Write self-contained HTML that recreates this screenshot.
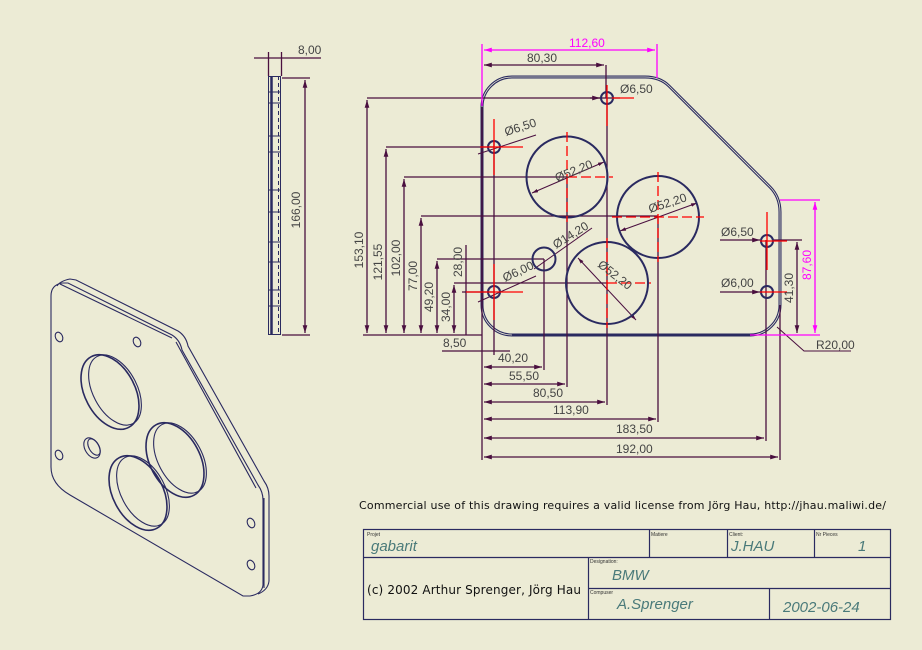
<!DOCTYPE html>
<html><head><meta charset="utf-8"><style>
html,body{margin:0;padding:0;background:#ECEBD5;}
svg{display:block;}
text{font-family:"Liberation Sans",sans-serif;}
</style></head><body>
<svg width="922" height="650" viewBox="0 0 922 650" xmlns="http://www.w3.org/2000/svg">
<rect width="922" height="650" fill="#ECEBD5"/>
<defs>
<marker id="a" viewBox="0 0 10 10" refX="10" refY="5" markerWidth="6" markerHeight="6" orient="auto-start-reverse"><path d="M0,2 L10,5 L0,8 z" fill="#4a0f3f"/></marker>
<marker id="m" viewBox="0 0 10 10" refX="10" refY="5" markerWidth="6" markerHeight="6" orient="auto-start-reverse"><path d="M0,2 L10,5 L0,8 z" fill="#ff00ff"/></marker>
</defs>

<!-- Isometric view -->
<g fill="none" stroke="#2a2a60" stroke-width="1.1">
<path d="M51,296 Q51,285 62,283 L68,283 L172,335 Q180,340 182,350 L258,485 Q263,492 263,500 L263,585 Q262,594 250,596 L243,596 L70,495 Q51,484 51,467 Z"/>
<path d="M57,286 Q60,281 70,279 L76,280 L178,331 Q186,336 188,346 L264,481 Q269,488 269,496 L269,581 Q268,590 258,594"/>
<path d="M60,284 L172,338 M176,342 L256,488 M264,498 L264,588"/>
<ellipse cx="110" cy="392" rx="25" ry="40" transform="rotate(-28 110 392)" stroke-width="1.6"/>
<ellipse cx="115" cy="390" rx="22" ry="38" transform="rotate(-28 115 390)"/>
<ellipse cx="175" cy="460" rx="25" ry="40" transform="rotate(-28 175 460)" stroke-width="1.6"/>
<ellipse cx="180" cy="458" rx="22" ry="38" transform="rotate(-28 180 458)"/>
<ellipse cx="138" cy="493" rx="25" ry="40" transform="rotate(-28 138 493)" stroke-width="1.6"/>
<ellipse cx="143" cy="491" rx="22" ry="38" transform="rotate(-28 143 491)"/>
<ellipse cx="92" cy="448" rx="7" ry="11" transform="rotate(-30 92 448)"/>
<ellipse cx="94" cy="447" rx="5" ry="9" transform="rotate(-30 94 447)"/>
<ellipse cx="59" cy="337" rx="3.5" ry="5" transform="rotate(-25 59 337)"/>
<ellipse cx="137" cy="342" rx="3.5" ry="5" transform="rotate(-25 137 342)"/>
<ellipse cx="59" cy="455" rx="3.5" ry="5" transform="rotate(-25 59 455)"/>
<ellipse cx="251" cy="523" rx="3.5" ry="5" transform="rotate(-25 251 523)"/>
<ellipse cx="251" cy="565" rx="3.5" ry="5" transform="rotate(-25 251 565)"/>
</g>

<!-- Side view -->
<g fill="none" stroke="#2a2a60" stroke-width="1">
<rect x="268.5" y="76.5" width="12" height="258"/>
<line x1="271.5" y1="76" x2="271.5" y2="335" stroke-width="2.5"/>
<line x1="278.5" y1="76" x2="278.5" y2="335" stroke-dasharray="4,3"/>
<path d="M269,92h11 M269,103h11 M269,136h11 M269,152h11 M269,190h11 M269,212h11 M269,242h11 M269,262h11 M269,290h11 M269,306h11"/>
</g>
<g stroke="#4a0f3f" fill="none" stroke-width="1.3">
<line x1="254" y1="58" x2="321" y2="58"/>
<line x1="268.5" y1="52" x2="268.5" y2="76"/><line x1="281.5" y1="52" x2="281.5" y2="76"/>
<line x1="282" y1="78" x2="310" y2="78"/><line x1="282" y1="335" x2="310" y2="335"/>
<line x1="305" y1="80" x2="305" y2="333" marker-start="url(#a)" marker-end="url(#a)"/>
</g>
<text x="298" y="54" font-size="12" fill="#444">8,00</text>
<text transform="translate(300,210) rotate(-90)" text-anchor="middle" font-size="12" fill="#444">166,00</text>

<!-- Front view plate -->
<path d="M482,107 A30,30 0 0 1 512,77 L645,77 Q660,77 669,86 L770,187 Q780,197 780,212 L780,305 A30,30 0 0 1 750,335 L512,335 A30,30 0 0 1 482,305 Z" fill="none" stroke="#2a2a60" stroke-width="3"/>
<path d="M482,107 A30,30 0 0 1 512,77 L645,77 Q660,77 669,86 L770,187 Q780,197 780,212 L780,305 A30,30 0 0 1 750,335 L512,335 A30,30 0 0 1 482,305 Z" fill="none" stroke="#ECEBD5" stroke-width="0.8"/>
<line x1="512" y1="335" x2="750" y2="335" stroke="#2a2a60" stroke-width="3"/>

<!-- extension / dimension lines -->
<g stroke="#4a0f3f" fill="none" stroke-width="1.3">
<line x1="367" y1="98" x2="620" y2="98"/>
<line x1="386" y1="147" x2="494" y2="147"/>
<line x1="404" y1="177" x2="567" y2="177"/>
<line x1="421" y1="216" x2="658" y2="216"/>
<line x1="437" y1="259" x2="544" y2="259"/>
<line x1="454" y1="283" x2="607" y2="283"/>
<line x1="462" y1="292" x2="494" y2="292"/>
<line x1="363" y1="335" x2="482" y2="335"/>
<line x1="367" y1="100" x2="367" y2="333" marker-start="url(#a)" marker-end="url(#a)"/>
<line x1="386" y1="149" x2="386" y2="333" marker-start="url(#a)" marker-end="url(#a)"/>
<line x1="404" y1="179" x2="404" y2="333" marker-start="url(#a)" marker-end="url(#a)"/>
<line x1="421" y1="218" x2="421" y2="333" marker-start="url(#a)" marker-end="url(#a)"/>
<line x1="437" y1="261" x2="437" y2="333" marker-start="url(#a)" marker-end="url(#a)"/>
<line x1="454" y1="285" x2="454" y2="333" marker-start="url(#a)" marker-end="url(#a)"/>
<line x1="466" y1="245" x2="466" y2="335"/>
<line x1="482" y1="107" x2="482" y2="460"/>
<line x1="494" y1="140" x2="494" y2="355"/>
<line x1="544" y1="259" x2="544" y2="370"/>
<line x1="567" y1="177" x2="567" y2="387"/>
<line x1="607" y1="98" x2="607" y2="405"/>
<line x1="658" y1="216" x2="658" y2="422"/>
<line x1="766" y1="240" x2="766" y2="441"/>
<line x1="780" y1="305" x2="780" y2="460"/>
<line x1="606" y1="65" x2="606" y2="98"/>
<line x1="442" y1="351" x2="510" y2="351"/>
<line x1="484" y1="367" x2="542" y2="367" marker-start="url(#a)" marker-end="url(#a)"/>
<line x1="484" y1="384" x2="565" y2="384" marker-start="url(#a)" marker-end="url(#a)"/>
<line x1="484" y1="402" x2="605" y2="402" marker-start="url(#a)" marker-end="url(#a)"/>
<line x1="484" y1="419" x2="656" y2="419" marker-start="url(#a)" marker-end="url(#a)"/>
<line x1="484" y1="438" x2="764" y2="438" marker-start="url(#a)" marker-end="url(#a)"/>
<line x1="484" y1="457" x2="778" y2="457" marker-start="url(#a)" marker-end="url(#a)"/>
<line x1="484" y1="65" x2="604" y2="65" marker-start="url(#a)" marker-end="url(#a)"/>
<line x1="720" y1="240" x2="760" y2="240" marker-end="url(#a)"/>
<line x1="720" y1="292" x2="760" y2="292" marker-end="url(#a)"/>
<line x1="772" y1="240" x2="802" y2="240"/>
<line x1="797" y1="242" x2="797" y2="333" marker-start="url(#a)" marker-end="url(#a)"/>
<polyline points="777,327 804,351 851,351" stroke-width="1"/>
<line x1="590" y1="98" x2="600" y2="98" marker-end="url(#a)"/>
<line x1="478" y1="154" x2="536" y2="135" stroke-width="1"/>
<line x1="532" y1="193" x2="604" y2="162" marker-start="url(#a)" marker-end="url(#a)" stroke-width="1"/>
<line x1="620" y1="231" x2="697" y2="203" marker-start="url(#a)" marker-end="url(#a)" stroke-width="1"/>
<line x1="578" y1="258" x2="636" y2="320" marker-start="url(#a)" marker-end="url(#a)" stroke-width="1"/>
<line x1="534" y1="269" x2="592" y2="228" stroke-width="1"/>
<line x1="478" y1="302" x2="536" y2="276" stroke-width="1"/>
</g>

<g stroke="#ff00ff" fill="none" stroke-width="1.3">
<line x1="482" y1="44" x2="482" y2="106"/>
<line x1="657" y1="44" x2="657" y2="78"/>
<line x1="484" y1="50" x2="655" y2="50" marker-start="url(#m)" marker-end="url(#m)"/>
<line x1="780" y1="200" x2="820" y2="200"/>
<line x1="750" y1="335" x2="820" y2="335"/>
<line x1="815" y1="202" x2="815" y2="333" marker-start="url(#m)" marker-end="url(#m)"/>
</g>

<g fill="none" stroke="#2a2a60" stroke-width="2">
<circle cx="567" cy="177" r="40.5"/>
<circle cx="658" cy="217" r="41"/>
<circle cx="607" cy="283" r="41"/>
<circle cx="544" cy="259" r="11.5"/>
<circle cx="607" cy="98" r="6"/>
<circle cx="494" cy="147" r="6"/>
<circle cx="494" cy="292" r="6"/>
<circle cx="767" cy="241" r="6"/>
<circle cx="767" cy="292" r="6"/>
</g>

<g stroke="#ff0000" fill="none" stroke-width="1.3">
<line x1="607" y1="85" x2="607" y2="126"/><line x1="612" y1="98" x2="634" y2="98"/>
<line x1="494" y1="119" x2="494" y2="175"/><line x1="480" y1="147" x2="523" y2="147"/>
<line x1="494" y1="264" x2="494" y2="320"/><line x1="466" y1="292" x2="523" y2="292"/>
<line x1="567" y1="132" x2="567" y2="222" stroke-dasharray="10,4"/><line x1="567" y1="177" x2="613" y2="177" stroke-dasharray="10,4"/>
<line x1="658" y1="172" x2="658" y2="262" stroke-dasharray="10,4"/><line x1="612" y1="217" x2="704" y2="217" stroke-dasharray="10,4"/>
<line x1="607" y1="238" x2="607" y2="328" stroke-dasharray="10,4"/><line x1="607" y1="283" x2="651" y2="283" stroke-dasharray="10,4"/>
<line x1="767" y1="212" x2="767" y2="270"/><line x1="760" y1="241" x2="787" y2="241"/>
<line x1="760" y1="292" x2="787" y2="292"/>
</g>

<g font-size="12" fill="#444">
<text x="569" y="47" fill="#ff00ff">112,60</text>
<text x="527" y="62">80,30</text>
<text x="620" y="93">Ø6,50</text>
<text x="506" y="136" transform="rotate(-18 506 136)">Ø6,50</text>
<text x="557" y="182" transform="rotate(-22 557 182)">Ø52,20</text>
<text x="650" y="213" transform="rotate(-18 650 213)">Ø52,20</text>
<text x="597" y="266" transform="rotate(38 597 266)">Ø52,20</text>
<text x="556" y="249" transform="rotate(-32 556 249)">Ø14,20</text>
<text x="505" y="282" transform="rotate(-25 505 282)">Ø6,00</text>
<text x="721" y="236">Ø6,50</text>
<text x="721" y="287">Ø6,00</text>
<text x="816" y="349">R20,00</text>
<text x="443" y="347">8,50</text>
<text x="498" y="362">40,20</text>
<text x="509" y="380">55,50</text>
<text x="533" y="397">80,50</text>
<text x="553" y="414">113,90</text>
<text x="616" y="433">183,50</text>
<text x="616" y="453">192,00</text>
<text transform="translate(363,250) rotate(-90)" text-anchor="middle">153,10</text>
<text transform="translate(382,262) rotate(-90)" text-anchor="middle">121,55</text>
<text transform="translate(400,258) rotate(-90)" text-anchor="middle">102,00</text>
<text transform="translate(417,276) rotate(-90)" text-anchor="middle">77,00</text>
<text transform="translate(433,297) rotate(-90)" text-anchor="middle">49,20</text>
<text transform="translate(450,307) rotate(-90)" text-anchor="middle">34,00</text>
<text transform="translate(462,262) rotate(-90)" text-anchor="middle">28,00</text>
<text transform="translate(793,288) rotate(-90)" text-anchor="middle">41,30</text>
<text transform="translate(811,265) rotate(-90)" text-anchor="middle" fill="#ff00ff">87,60</text>
</g>

<text x="359" y="509" font-size="11" fill="#111" textLength="527" style="font-family:'DejaVu Sans',sans-serif">Commercial use of this drawing requires a valid license from Jörg Hau, http://jhau.maliwi.de/</text>

<g fill="none" stroke="#2a2a60" stroke-width="1.2">
<rect x="363.5" y="529.5" width="527" height="90"/>
<line x1="363" y1="557.5" x2="891" y2="557.5"/>
<line x1="649.5" y1="529" x2="649.5" y2="557"/>
<line x1="727.5" y1="529" x2="727.5" y2="557"/>
<line x1="814.5" y1="529" x2="814.5" y2="557"/>
<line x1="588.5" y1="557" x2="588.5" y2="619"/>
<line x1="588" y1="588.5" x2="891" y2="588.5"/>
<line x1="769.5" y1="588" x2="769.5" y2="619"/>
</g>
<g font-size="5" fill="#333">
<text x="367" y="536">Projet</text><text x="651" y="536">Matiere</text><text x="729" y="536">Client:</text><text x="816" y="536">Nr Pieces</text>
<text x="590" y="563">Designation:</text><text x="590" y="594">Compuser</text>
</g>
<g font-size="15" fill="#4a7a7a" font-style="italic">
<text x="371" y="551">gabarit</text>
<text x="731" y="551">J.HAU</text>
<text x="858" y="551">1</text>
<text x="612" y="580">BMW</text>
<text x="617" y="609">A.Sprenger</text>
<text x="783" y="612">2002-06-24</text>
</g>
<text x="367" y="594" font-size="12" fill="#111" textLength="214" style="font-family:'DejaVu Sans',sans-serif">(c) 2002 Arthur Sprenger, Jörg Hau</text>
</svg>
</body></html>
